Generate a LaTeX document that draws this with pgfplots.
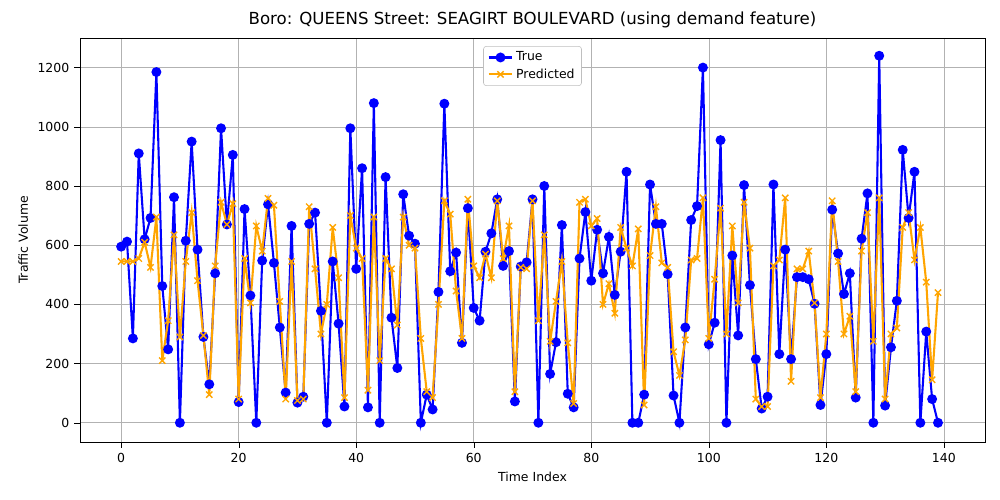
\documentclass[border=0pt]{standalone}
\usepackage{pgfplots}
\pgfplotsset{compat=1.18}
\usepackage{fontspec}
\setmainfont{DejaVu Sans}
\definecolor{mplorange}{RGB}{255,165,0}
\begin{document}
\begin{tikzpicture}
\path[use as bounding box] (-0.8in,-0.58in) rectangle (9.2in,4.42in);
\begin{axis}[
  at={(0,0)}, anchor=south west,
  scale only axis, width=9.05in, height=4.04in,
  xmin=-7, xmax=147, ymin=-65, ymax=1300,
  xtick={0,20,...,140}, ytick={0,200,...,1200},
  xtick pos=left, ytick pos=left,
  grid=major, grid style={gray!60},
  tick align=outside, tick style={black},
  /pgf/number format/assume math mode=true,
  /pgf/number format/set thousands separator={},
  ticklabel style={font=\small},
  xlabel={Time Index}, ylabel={Traffic Volume},
  label style={font=\small},
  title={Boro: QUEENS Street: SEAGIRT BOULEVARD (using demand feature)},
  title style={font=\large, yshift=-2pt},
  legend style={at={(0.5,0.98)}, anchor=north, font=\small, draw=gray!50, rounded corners=2pt},
  legend cell align=left,
]
\addplot[blue, line width=1.5pt, mark=*, mark size=2.8pt, mark options={solid}] coordinates {
(0,595)(1,612)(2,285)(3,910)(4,620)(5,692)(6,1185)(7,462)(8,248)(9,762)
(10,0)(11,615)(12,950)(13,585)(14,290)(15,130)(16,505)(17,995)(18,670)(19,905)
(20,70)(21,722)(22,430)(23,0)(24,548)(25,738)(26,540)(27,322)(28,102)(29,665)
(30,68)(31,88)(32,672)(33,710)(34,378)(35,0)(36,545)(37,335)(38,55)(39,995)
(40,520)(41,860)(42,52)(43,1080)(44,0)(45,830)(46,355)(47,185)(48,772)(49,632)
(50,605)(51,0)(52,95)(53,45)(54,442)(55,1078)(56,512)(57,575)(58,270)(59,725)
(60,388)(61,345)(62,578)(63,640)(64,755)(65,530)(66,580)(67,72)(68,528)(69,542)
(70,755)(71,0)(72,800)(73,165)(74,272)(75,668)(76,98)(77,52)(78,555)(79,712)
(80,480)(81,652)(82,505)(83,628)(84,432)(85,578)(86,848)(87,0)(88,0)(89,95)
(90,805)(91,672)(92,672)(93,502)(94,92)(95,0)(96,322)(97,685)(98,732)(99,1200)
(100,265)(101,338)(102,955)(103,0)(104,565)(105,295)(106,803)(107,465)(108,215)(109,48)
(110,88)(111,805)(112,232)(113,585)(114,215)(115,492)(116,492)(117,485)(118,402)(119,60)
(120,232)(121,720)(122,572)(123,435)(124,505)(125,85)(126,622)(127,775)(128,0)(129,1240)
(130,58)(131,255)(132,412)(133,922)(134,692)(135,848)(136,0)(137,308)(138,80)(139,0)
};
\addlegendentry{True}
\addplot[mplorange, line width=1.5pt, mark=x, mark size=3.2pt, mark options={line width=1pt}] coordinates {
(0,545)(1,545)(2,545)(3,555)(4,610)(5,525)(6,695)(7,210)(8,345)(9,635)
(10,290)(11,545)(12,710)(13,480)(14,295)(15,95)(16,530)(17,745)(18,670)(19,740)
(20,80)(21,555)(22,405)(23,665)(24,580)(25,758)(26,735)(27,410)(28,80)(29,545)
(30,75)(31,80)(32,730)(33,520)(34,300)(35,400)(36,660)(37,490)(38,85)(39,700)
(40,590)(41,555)(42,110)(43,695)(44,210)(45,555)(46,520)(47,330)(48,695)(49,600)
(50,590)(51,285)(52,105)(53,85)(54,400)(55,750)(56,705)(57,445)(58,285)(59,755)
(60,530)(61,490)(62,570)(63,490)(64,750)(65,555)(66,665)(67,105)(68,525)(69,520)
(70,750)(71,345)(72,635)(73,275)(74,410)(75,545)(76,270)(77,65)(78,745)(79,755)
(80,665)(81,690)(82,400)(83,470)(84,370)(85,660)(86,590)(87,530)(88,655)(89,60)
(90,565)(91,730)(92,540)(93,525)(94,240)(95,160)(96,280)(97,550)(98,555)(99,760)
(100,285)(101,485)(102,725)(103,300)(104,665)(105,405)(106,745)(107,590)(108,80)(109,55)
(110,55)(111,530)(112,550)(113,760)(114,140)(115,520)(116,520)(117,580)(118,405)(119,85)
(120,300)(121,750)(122,545)(123,300)(124,360)(125,105)(126,580)(127,710)(128,275)(129,760)
(130,80)(131,300)(132,320)(133,660)(134,710)(135,550)(136,660)(137,475)(138,145)(139,440)
};
\addlegendentry{Predicted}
\end{axis}
\end{tikzpicture}
\end{document}
